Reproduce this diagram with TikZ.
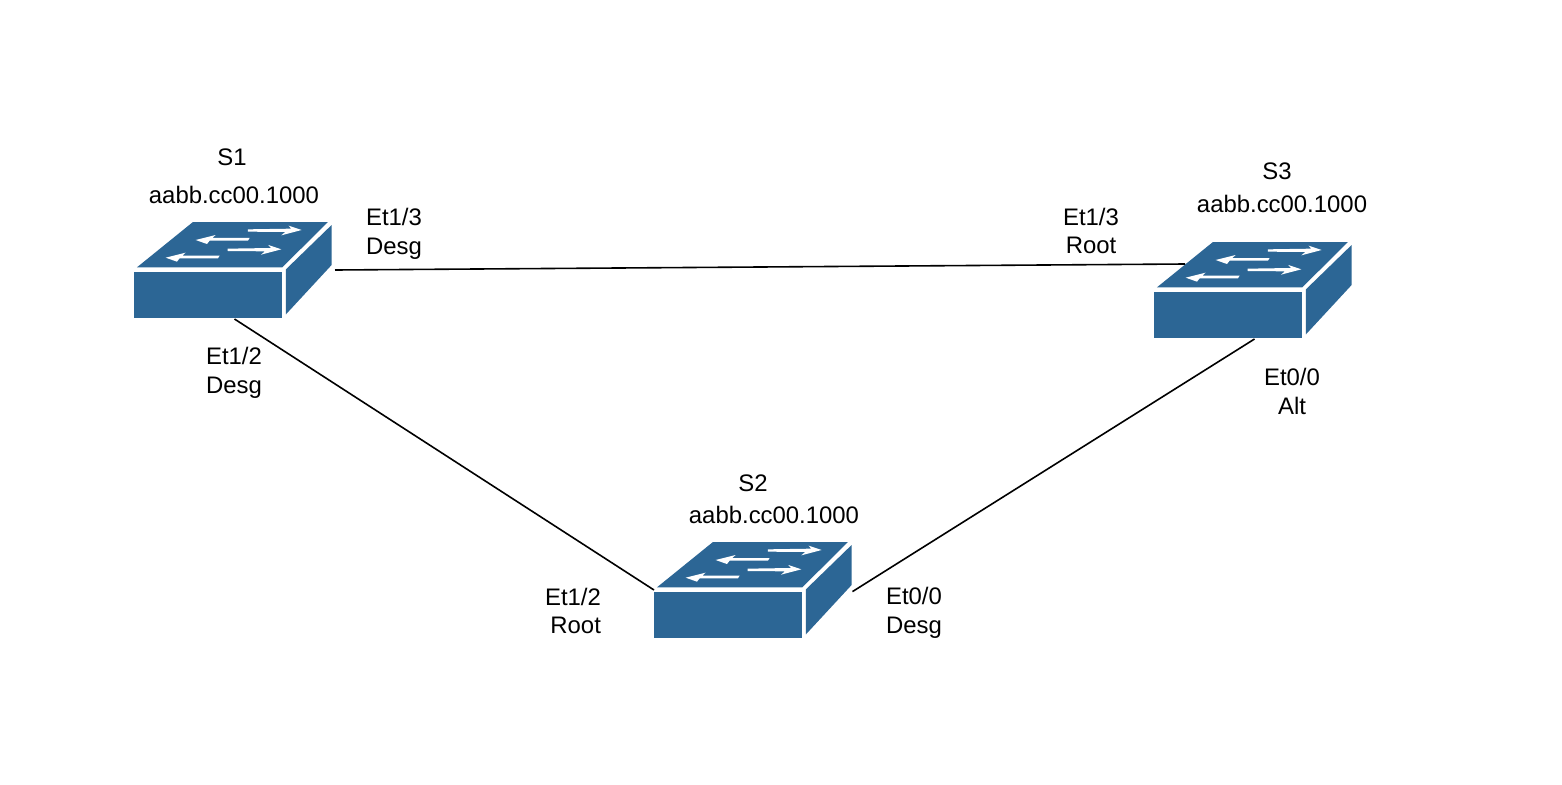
\documentclass[tikz,border=0pt]{standalone}
\usepackage{fontspec}
\setmainfont{Liberation Sans}
\definecolor{swblue}{HTML}{2C6695}
\tikzset{
  x=1pt,y=-1pt,
  swbox/.style={minimum width=199pt,minimum height=96pt,inner sep=0pt,outer sep=1pt,anchor=south west},
  lbl/.style={font=\fontsize{23.9}{28.5}\selectfont,inner sep=0pt,align=center,text=black},
  wire/.style={draw=black,line width=1.6pt},
  pics/switch/.style={code={
    \begin{scope}[shift={(-14.67,-108)},scale=0.3333]
      \fill[swblue] (42,185) -- (487,185) -- (487,323) -- (42,323) -- cycle;
      \fill[swblue] (499,178) -- (636,45) -- (636,165) -- (499,313) -- cycle;
      \fill[swblue] (52,172) -- (220,36) -- (625,36) -- (488,172) -- cycle;
      \foreach \dx/\dy in {0/0,-61/58}{
        \fill[white,shift={(\dx,\dy)}] (385,58) -- (515,56) -- (507,47) -- (546,60) -- (485,76) -- (497,66) -- (385,65) -- cycle;
      }
      \foreach \dx/\dy in {0/0,-90/53}{
        \fill[white,shift={(\dx,\dy)}] (228,90) -- (288,75) -- (278,84) -- (390,84) -- (385,92) -- (270,92) -- (262,102) -- cycle;
      }
    \end{scope}
  }}
}
\begin{document}
\begin{tikzpicture}
\useasboundingbox[fill=white] (0,0) rectangle (1562,784);
\pic at (134.3,318) {switch};
\pic at (654.3,638) {switch};
\pic at (1154.3,338) {switch};
\node[swbox] (s1) at (134,319) {};
\node[swbox] (s2) at (654,639) {};
\node[swbox] (s3) at (1154,339) {};
\coordinate (s3port) at (1185,264);
\draw[wire] (s1.east) -- (s3port);
\draw[wire] (s1.south) -- (s2.west);
\draw[wire,shorten >=-3pt] (s3.south) -- (s2.east);
\node[lbl] (n1) at (232,157) {S1};
\node[lbl] (m1) at (234,195) {aabb.cc00.1000};
\node[lbl] (n2) at (753,483) {S2};
\node[lbl] (m2) at (774,515) {aabb.cc00.1000};
\node[lbl] (n3) at (1277,171) {S3};
\node[lbl] (m3) at (1282,204) {aabb.cc00.1000};
\node[lbl] (p1) at (394,234) {Et1/3\\Desg};
\node[lbl] (p2) at (234,373) {Et1/2\\Desg};
\node[lbl] (p3) at (1091,231) {Et1/3\\Root};
\node[lbl] (p4) at (1292,391.5) {Et0/0\\Alt};
\node[lbl,align=right] (p5) at (573,611) {Et1/2\\Root};
\node[lbl] (p6) at (914,613) {Et0/0\\Desg};
\end{tikzpicture}
\end{document}
